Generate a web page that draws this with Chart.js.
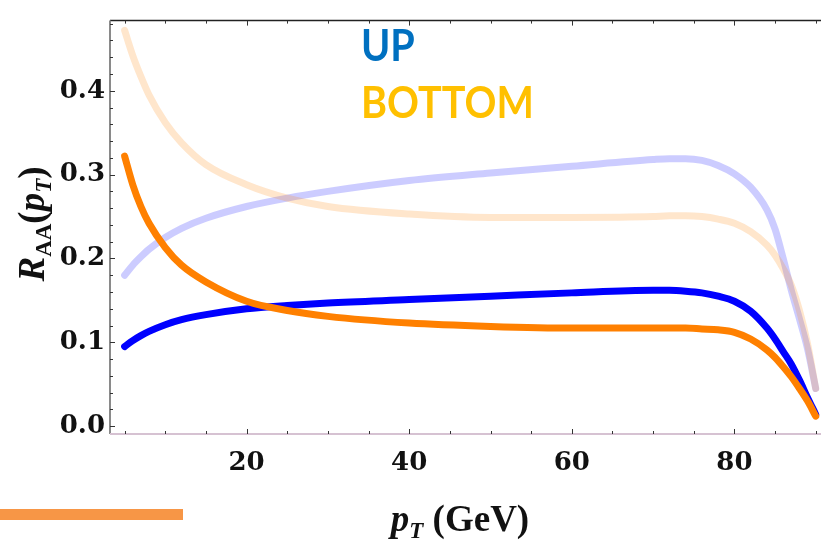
<!DOCTYPE html>
<html>
<head>
<meta charset="utf-8">
<script src="https://cdn.jsdelivr.net/npm/chart.js@4.4.1/dist/chart.umd.min.js"></script>
<style>
  html, body { margin: 0; padding: 0; background: #fff; }
  #wrap { position: relative; width: 821px; height: 548px; }
  #bar { position: absolute; left: 0; top: 509px; width: 183px; height: 11px; background: #f79646; }
</style>
</head>
<body>
<div id="wrap">
  <canvas id="chart" width="821" height="548"></canvas>
  <div id="bar"></div>
</div>
<script>
// pT grid (GeV) shared by all curves
const pT = [5, 6, 7, 8, 10, 12, 15, 20, 25, 30, 40, 50, 60, 70, 72, 74, 76, 78, 80, 82, 84, 85, 86, 87, 88, 89, 90];

// R_AA values
const upDark      = [0.095, 0.102, 0.108, 0.113, 0.121, 0.127, 0.133, 0.140, 0.144, 0.147, 0.151, 0.155, 0.159, 0.162, 0.162, 0.161, 0.159, 0.155, 0.149, 0.137, 0.117, 0.104, 0.089, 0.074, 0.055, 0.034, 0.014];
const bottomDark  = [0.322, 0.288, 0.262, 0.242, 0.213, 0.192, 0.172, 0.149, 0.138, 0.131, 0.123, 0.119, 0.117, 0.117, 0.117, 0.117, 0.116, 0.115, 0.112, 0.104, 0.091, 0.082, 0.071, 0.059, 0.045, 0.030, 0.012];
const upLight     = [0.180, 0.192, 0.202, 0.211, 0.225, 0.236, 0.248, 0.262, 0.272, 0.280, 0.293, 0.302, 0.310, 0.318, 0.319, 0.319, 0.317, 0.311, 0.301, 0.285, 0.258, 0.235, 0.200, 0.162, 0.128, 0.092, 0.045];
const bottomLight = [0.472, 0.442, 0.417, 0.395, 0.362, 0.338, 0.312, 0.288, 0.272, 0.262, 0.253, 0.249, 0.249, 0.250, 0.251, 0.251, 0.250, 0.247, 0.242, 0.232, 0.216, 0.204, 0.188, 0.168, 0.138, 0.098, 0.045];

const xTickValues = [20, 40, 60, 80];
const yTickValues = [0.0, 0.1, 0.2, 0.3, 0.4];

function toPoints(values) {
    return values.map((v, i) => ({ x: pT[i], y: v }));
}

const tickFont = { family: "DejaVu Serif", weight: "bold", size: 26 };

// axis frame, inward ticks, titles and the UP / BOTTOM labels
const decorations = {
    id: "decorations",
    afterDraw(chart) {
        const ctx = chart.ctx;
        const area = chart.chartArea;
        const xs = chart.scales.x;
        const ys = chart.scales.y;
        ctx.save();

        // frame
        ctx.lineWidth = 1.5;
        ctx.strokeStyle = "#222";
        ctx.beginPath();
        ctx.moveTo(area.left, area.top);
        ctx.lineTo(area.right, area.top);
        ctx.stroke();
        ctx.lineWidth = 2;
        ctx.strokeStyle = "#8a8a8a";
        ctx.beginPath();
        ctx.moveTo(area.left, area.top);
        ctx.lineTo(area.left, area.bottom);
        ctx.stroke();
        ctx.strokeStyle = "#d6c2d2";
        ctx.beginPath();
        ctx.moveTo(area.left, area.bottom);
        ctx.lineTo(area.right, area.bottom);
        ctx.stroke();

        // ticks
        ctx.lineWidth = 1;
        ctx.strokeStyle = "#333";
        for (let v = 5; v <= 90; v += 5) {
            const px = Math.round(xs.getPixelForValue(v)) + 0.5;
            const len = v % 20 === 0 ? 5 : 3;
            ctx.beginPath();
            ctx.moveTo(px, area.bottom);
            ctx.lineTo(px, area.bottom - len);
            ctx.moveTo(px, area.top);
            ctx.lineTo(px, area.top + len);
            ctx.stroke();
        }
        for (let i = 0; i <= 24; i++) {
            const v = i * 0.02;
            const py = Math.round(ys.getPixelForValue(v)) + 0.5;
            const len = i % 5 === 0 ? 5 : 3;
            ctx.beginPath();
            ctx.moveTo(area.left, py);
            ctx.lineTo(area.left + len, py);
            ctx.stroke();
        }

        // axis titles
        ctx.fillStyle = "#111";
        ctx.textBaseline = "alphabetic";
        ctx.textAlign = "left";
        const serif = '"Liberation Serif", "Times New Roman", serif';
        function drawPieces(pieces, cx, baseY) {
            let w = 0;
            pieces.forEach(p => { ctx.font = p.font; w += ctx.measureText(p.t).width; });
            let x = cx - w / 2;
            pieces.forEach(p => {
                ctx.font = p.font;
                ctx.fillText(p.t, x, baseY + (p.dy || 0));
                x += ctx.measureText(p.t).width;
            });
        }
        const big = "bold 37px " + serif;
        const bigIt = "italic bold 37px " + serif;
        const small = "bold 23px " + serif;
        const smallIt = "italic bold 23px " + serif;

        drawPieces([
            { t: "p", font: bigIt },
            { t: "T", font: smallIt, dy: 7 },
            { t: " (GeV)", font: big }
        ], 460, 531);

        ctx.save();
        ctx.translate(32, 224);
        ctx.rotate(-Math.PI / 2);
        drawPieces([
            { t: "R", font: bigIt },
            { t: "AA", font: small, dy: 7 },
            { t: "(", font: big },
            { t: "p", font: bigIt },
            { t: "T", font: smallIt, dy: 7 },
            { t: ")", font: big }
        ], 0, 12);
        ctx.restore();

        // series labels (Calibri-like, a bit narrower than Lato)
        ctx.save();
        ctx.translate(361, 0);
        ctx.scale(0.92, 1);
        ctx.font = 'bold 43px Lato, "Open Sans", sans-serif';
        ctx.fillStyle = "#0070c0";
        ctx.fillText("UP", 0, 61);
        ctx.fillStyle = "#ffc000";
        ctx.fillText("BOTTOM", 0, 118);
        ctx.restore();

        ctx.restore();
    }
};

function lineSet(values, color, order) {
    return {
        data: toPoints(values),
        borderColor: color,
        borderWidth: 7,
        borderCapStyle: "round",
        pointRadius: 0,
        cubicInterpolationMode: "monotone",
        fill: false,
        order: order
    };
}

new Chart(document.getElementById("chart"), {
    type: "line",
    data: {
        datasets: [
            lineSet(bottomDark, "#ff8000", 0),
            lineSet(upDark, "#0000ff", 1),
            lineSet(bottomLight, "rgba(255,128,0,0.2)", 2),
            lineSet(upLight, "rgba(0,0,255,0.2)", 3)
        ]
    },
    options: {
        responsive: false,
        devicePixelRatio: 1,
        animation: false,
        layout: { padding: { top: 10, left: 0, right: 0, bottom: 0 } },
        plugins: { legend: { display: false }, tooltip: { enabled: false } },
        scales: {
            x: {
                type: "linear",
                min: 3.2,
                max: 90.65,
                grid: { display: false, drawTicks: false },
                border: { display: false },
                afterBuildTicks: s => { s.ticks = xTickValues.map(v => ({ value: v })); },
                afterFit: s => { s.height = 114; },
                ticks: { font: tickFont, color: "#111", padding: 14, maxRotation: 0, callback: v => String(v) }
            },
            y: {
                type: "linear",
                min: -0.0093,
                max: 0.4837,
                grid: { display: false, drawTicks: false },
                border: { display: false },
                afterBuildTicks: s => { s.ticks = yTickValues.map(v => ({ value: v })); },
                afterFit: s => { s.width = 110; },
                ticks: { font: tickFont, color: "#111", padding: 5, callback: v => v.toFixed(1) }
            }
        }
    },
    plugins: [decorations]
});
</script>
</body>
</html>
